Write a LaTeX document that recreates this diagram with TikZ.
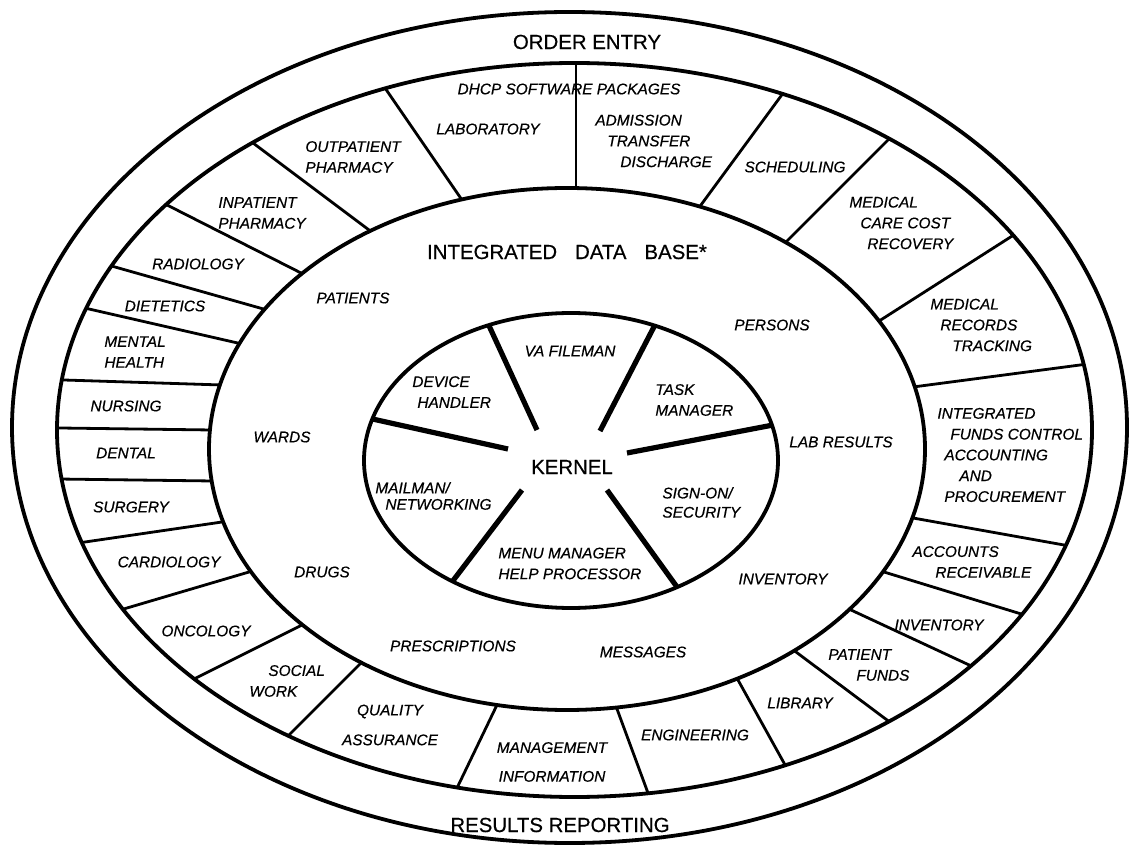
\documentclass[tikz,border=0pt]{standalone}
\usepackage{fontspec}
\setmainfont{Liberation Sans}[FakeBold=0.5]

\begin{document}
\begin{tikzpicture}[x=0.5pt, y=-0.5pt,
                ring/.style={line width=1.9pt},
                spoke/.style={line width=1.4pt, shorten <=-8pt, shorten >=-8pt},
                kspoke/.style={line width=2.6pt, shorten >=-8pt},
                lbl/.style={font=\fontsize{7.7}{10.4}\selectfont\itshape, inner sep=0pt, align=left},
                big/.style={font=\fontsize{10.2}{12}\selectfont, inner sep=0pt},
            ]

            % Page
            \useasboundingbox[fill=white] (0,0) rectangle (1130,855);

            % Dividers of the package ring
            \begin{scope}[even odd rule]
            \clip (574.5,430) ellipse [x radius=258.75pt, y radius=183.5pt]
                  (567,449) ellipse [x radius=179pt, y radius=130.5pt];
            \draw[spoke] (576,192) -- (576,63);
            \draw[spoke] (462,200) -- (385,88);
            \draw[spoke] (373,233) -- (253,143);
            \draw[spoke] (305,275) -- (169,206);
            \draw[spoke] (267,310) -- (115,267);
            \draw[spoke] (242,344) -- (89,309);
            \draw[spoke] (222,385) -- (64,380);
            \draw[spoke] (212,430) -- (60,428);
            \draw[spoke] (213,481) -- (58,479);
            \draw[spoke] (222,522) -- (85,542);
            \draw[spoke] (249,572) -- (127,608);
            \draw[spoke] (302,625) -- (196,678);
            \draw[spoke] (360,664) -- (289,735);
            \draw[spoke] (496,707) -- (457,788);
            \draw[spoke] (617,709) -- (648,793);
            \draw[spoke] (738,680) -- (784,763);
            \draw[spoke] (796,652) -- (887,720);
            \draw[spoke] (851,610) -- (967,664);
            \draw[spoke] (884,572) -- (1018,613);
            \draw[spoke] (913,518) -- (1064,545);
            \draw[spoke] (913,387) -- (1080,365);
            \draw[spoke] (876,323) -- (1009,238);
            \draw[spoke] (783,245) -- (885,143);
            \draw[spoke] (698,209) -- (781,96);
            \end{scope}

            % Dividers of the kernel
            \begin{scope}
            \clip (571,460.5) ellipse [x radius=103.5pt, y radius=73.75pt];
            \draw[kspoke] (537,430) -- (485,317);
            \draw[kspoke] (600,431) -- (657,321);
            \draw[kspoke] (627,453) -- (773,425);
            \draw[kspoke] (607,490) -- (677,587);
            \draw[kspoke] (522,490) -- (452,582);
            \draw[kspoke] (508,449) -- (368,418);
            \end{scope}

            % Ellipses, outside in
            \draw[ring] (569.5,427.5) ellipse [x radius=278.75pt, y radius=207.75pt];
            \draw[ring] (574.5,430) ellipse [x radius=258.75pt, y radius=183.5pt];
            \draw[ring] (567,449) ellipse [x radius=179pt, y radius=130.5pt];
            \draw[ring] (571,460.5) ellipse [x radius=103.5pt, y radius=73.75pt];

            % Titles
            \node[big] (orderentry) at (587,42) {ORDER ENTRY};
            \node[big] (results) at (560,825) {RESULTS REPORTING};
            \node[big] (database) at (567,252) {INTEGRATED\hspace{9pt}DATA\hspace{9pt}BASE*};
            \node[big] (kernel) at (572,467) {KERNEL};

            % Software packages
            \node[lbl] (dhcp) at (569,89) {DHCP SOFTWARE PACKAGES};
            \node[lbl] (laboratory) at (488,129) {LABORATORY};
            \node[lbl, anchor=west] (adt) at (595,141) {ADMISSION\\\hspace{6pt}TRANSFER\\\hspace{12.5pt}DISCHARGE};
            \node[lbl] (scheduling) at (795,167) {SCHEDULING};
            \node[lbl, anchor=west] (costrecovery) at (849,223) {MEDICAL\\\hspace{5.5pt}CARE COST\\\hspace{9pt}RECOVERY};
            \node[lbl, anchor=west] (records) at (930,325) {MEDICAL\\\hspace{5pt}RECORDS\\\hspace{11pt}TRACKING};
            \node[lbl, anchor=west] (ifcap) at (937,455) {INTEGRATED\\\hspace{6.5pt}FUNDS CONTROL\\\hspace{3.5pt}ACCOUNTING\\\hspace{11pt}AND\\\hspace{3.5pt}PROCUREMENT};
            \node[lbl, anchor=west] (receivable) at (912,562) {ACCOUNTS\\\hspace{11.5pt}RECEIVABLE};
            \node[lbl] (inventory) at (939,625) {INVENTORY};
            \node[lbl, anchor=west] (patfunds) at (828,665) {PATIENT\\\hspace{14pt}FUNDS};
            \node[lbl] (library) at (800,703) {LIBRARY};
            \node[lbl] (engineering) at (695,735) {ENGINEERING};
            \node[lbl, align=center] (mis) at (552,762) {MANAGEMENT\\[4pt]INFORMATION};
            \node[lbl, align=center] (quality) at (390,725) {QUALITY\\[4.5pt]ASSURANCE};
            \node[lbl, anchor=west] (social) at (249,681) {\hspace{9.5pt}SOCIAL\\WORK};
            \node[lbl] (oncology) at (206,631) {ONCOLOGY};
            \node[lbl] (cardiology) at (169,562) {CARDIOLOGY};
            \node[lbl] (surgery) at (131,507) {SURGERY};
            \node[lbl] (dental) at (126,453) {DENTAL};
            \node[lbl] (nursing) at (126,406) {NURSING};
            \node[lbl, anchor=west] (mental) at (104,352) {MENTAL\\HEALTH};
            \node[lbl] (dietetics) at (165,306) {DIETETICS};
            \node[lbl] (radiology) at (198,264) {RADIOLOGY};
            \node[lbl, anchor=west] (inpharmacy) at (218,213) {INPATIENT\\PHARMACY};
            \node[lbl, anchor=west] (outpharmacy) at (305,157) {OUTPATIENT\\PHARMACY};

            % Data base contents
            \node[lbl] (patients) at (353,298) {PATIENTS};
            \node[lbl] (persons) at (772,325) {PERSONS};
            \node[lbl] (labresults) at (841,442) {LAB RESULTS};
            \node[lbl] (wards) at (282,437) {WARDS};
            \node[lbl] (drugs) at (322,572) {DRUGS};
            \node[lbl] (prescriptions) at (453,646) {PRESCRIPTIONS};
            \node[lbl] (messages) at (643,652) {MESSAGES};
            \node[lbl] (stock) at (783,579) {INVENTORY};

            % Kernel parts
            \node[lbl] (fileman) at (570,351) {VA FILEMAN};
            \node[lbl, anchor=west] (device) at (412,392) {DEVICE\\\hspace{2.5pt}HANDLER};
            \node[lbl, anchor=west] (task) at (655,400) {TASK\\MANAGER};
            \node[lbl, anchor=west, font=\fontsize{7.7}{8.2}\selectfont\itshape] (mailman) at (375,496) {MAILMAN/\\\hspace{5pt}NETWORKING};
            \node[lbl, anchor=west, font=\fontsize{7.7}{9.6}\selectfont\itshape] (signon) at (662,502.5) {SIGN-ON/\\SECURITY};
            \node[lbl, anchor=west] (menu) at (498,563.5) {MENU MANAGER\\HELP PROCESSOR};

            \end{tikzpicture}
\end{document}
